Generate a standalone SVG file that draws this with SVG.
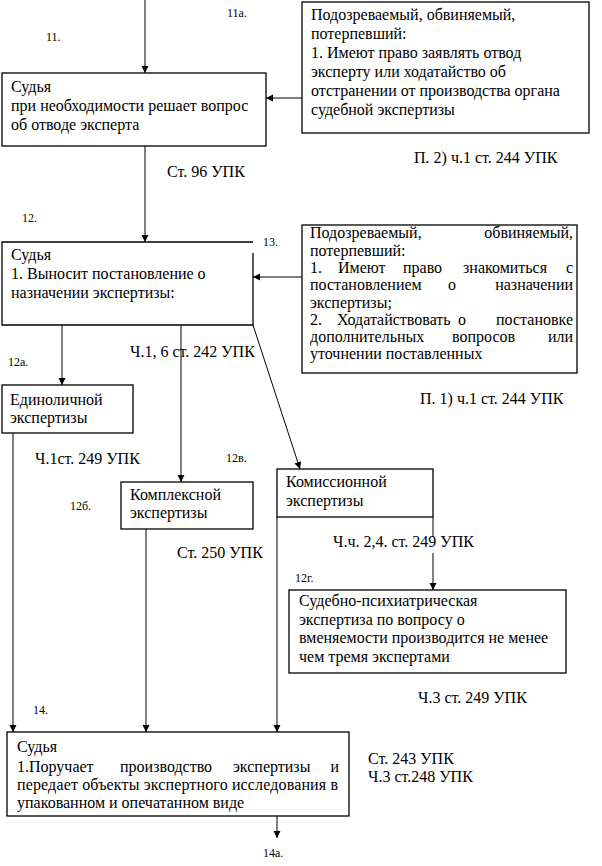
<svg xmlns="http://www.w3.org/2000/svg" width="602" height="866" viewBox="0 0 602 866" font-family="'Liberation Serif', 'Times New Roman', 'DejaVu Serif', serif">
<style>
text{font-family:'Liberation Serif','Times New Roman','DejaVu Serif',serif;fill:#000}
.t{font-size:16px}
.s{font-size:12px}
.e{text-anchor:end}
.box{fill:#fff;stroke:#000;stroke-width:1.3}
.ln{fill:none;stroke:#000;stroke-width:1}
</style>
<defs>
<marker id="ah" markerUnits="userSpaceOnUse" markerWidth="8" markerHeight="8" refX="7" refY="3.5" orient="auto">
<path d="M0,0 L7,3.5 L0,7 z" fill="#000"/>
</marker>
</defs>
<rect width="602" height="866" fill="#fff"/>
<g id="labels">
<text class="s" x="227" y="17">11а.</text>
<text class="s" x="46" y="41">11.</text>
<text class="t" x="167" y="177">Ст. 96 УПК</text>
<text class="t" x="414" y="163">П. 2) ч.1 ст. 244 УПК</text>
<text class="s" x="22" y="222">12.</text>
<text class="s" x="263" y="246">13.</text>
<text class="t" x="130" y="357">Ч.1, 6 ст. 242 УПК</text>
<text class="s" x="8" y="366">12а.</text>
<text class="t" x="420" y="404">П. 1) ч.1 ст. 244 УПК</text>
<text class="t" x="35" y="464">Ч.1ст. 249 УПК</text>
<text class="s" x="226" y="462">12в.</text>
<text class="s" x="70" y="510">12б.</text>
<text class="t" x="177" y="558">Ст. 250 УПК</text>
<text class="t" x="333" y="547">Ч.ч. 2,4. ст. 249 УПК</text>
<text class="s" x="295" y="582">12г.</text>
<text class="t" x="418" y="703">Ч.3 ст. 249 УПК</text>
<text class="s" x="33" y="714">14.</text>
<text class="t" x="368" y="764">Ст. 243 УПК</text>
<text class="t" x="368" y="782">Ч.3 ст.248 УПК</text>
<text class="s" x="263" y="857">14а.</text>
</g>
<g id="connectors">
<line class="ln" x1="145" y1="0" x2="145" y2="73" marker-end="url(#ah)"/>
<line class="ln" x1="302" y1="98" x2="266" y2="98" marker-end="url(#ah)"/>
<line class="ln" x1="145" y1="146" x2="145" y2="242" marker-end="url(#ah)"/>
<line class="ln" x1="302" y1="277" x2="253" y2="277" marker-end="url(#ah)"/>
<line class="ln" x1="62" y1="325" x2="62" y2="385" marker-end="url(#ah)"/>
<line class="ln" x1="181" y1="325" x2="181" y2="482" marker-end="url(#ah)"/>
<line class="ln" x1="253" y1="325" x2="300" y2="469" marker-end="url(#ah)"/>
<line class="ln" x1="13" y1="433" x2="13" y2="732" marker-end="url(#ah)"/>
<line class="ln" x1="146" y1="529" x2="146" y2="732" marker-end="url(#ah)"/>
<line class="ln" x1="277" y1="517" x2="277" y2="732" marker-end="url(#ah)"/>
<line class="ln" x1="433" y1="517" x2="433" y2="537"/>
<line class="ln" x1="433" y1="553" x2="433" y2="590" marker-end="url(#ah)"/>
<line class="ln" x1="277" y1="816" x2="277" y2="838" marker-end="url(#ah)"/>
</g>
<g id="n11">
<rect class="box" x="2" y="73" width="264" height="73"/>
<text class="t" x="11" y="92">Судья</text>
<text class="t" x="11" y="111">при необходимости решает вопрос</text>
<text class="t" x="11" y="130">об отводе эксперта</text>
</g>
<g id="n11a">
<rect class="box" x="302" y="2" width="287" height="131"/>
<text class="t" x="311" y="20">Подозреваемый, обвиняемый,</text>
<text class="t" x="311" y="39">потерпевший:</text>
<text class="t" x="311" y="58">1. Имеют право заявлять отвод</text>
<text class="t" x="311" y="77">эксперту или ходатайство об</text>
<text class="t" x="311" y="96">отстранении от производства органа</text>
<text class="t" x="311" y="115">судебной экспертизы</text>
</g>
<g id="n12">
<path class="box" d="M253,253 V325 H2 V242 H253" fill="none"/>
<text class="t" x="11" y="260">Судья</text>
<text class="t" x="11" y="279">1. Выносит постановление о</text>
<text class="t" x="11" y="298">назначении экспертизы:</text>
</g>
<g id="n13">
<rect class="box" x="302" y="225" width="275" height="148"/>
<text class="t" x="310" y="238">Подозреваемый,</text>
<text class="t e" x="573" y="238">обвиняемый,</text>
<text class="t" x="310" y="255.5">потерпевший:</text>
<text class="t" y="273"><tspan x="310">1.</tspan><tspan x="338">Имеют</tspan><tspan x="403">право</tspan><tspan x="463">знакомиться</tspan></text>
<text class="t e" x="573" y="273">с</text>
<text class="t" y="290"><tspan x="310">постановлением</tspan><tspan x="448">о</tspan></text>
<text class="t e" x="573" y="290">назначении</text>
<text class="t" x="310" y="307.5">экспертизы;</text>
<text class="t" y="325"><tspan x="310">2.</tspan><tspan x="337">Ходатайствовать</tspan><tspan x="458">о</tspan></text>
<text class="t e" x="573" y="325">постановке</text>
<text class="t" y="342"><tspan x="310">дополнительных</tspan><tspan x="452">вопросов</tspan></text>
<text class="t e" x="573" y="342">или</text>
<text class="t" x="310" y="359">уточнении поставленных</text>
</g>
<g id="n12a">
<rect class="box" x="2" y="385" width="131" height="48"/>
<text class="t" x="10" y="405">Единоличной</text>
<text class="t" x="10" y="423">экспертизы</text>
</g>
<g id="n12b">
<rect class="box" x="121" y="482" width="132" height="47"/>
<text class="t" x="130" y="500">Комплексной</text>
<text class="t" x="130" y="518">экспертизы</text>
</g>
<g id="n12v">
<rect class="box" x="277" y="469" width="156" height="48"/>
<text class="t" x="286" y="487">Комиссионной</text>
<text class="t" x="286" y="506">экспертизы</text>
</g>
<g id="n12g">
<rect class="box" x="289" y="590" width="277" height="83"/>
<text class="t" x="299" y="606">Судебно-психиатрическая</text>
<text class="t" x="299" y="624.5">экспертиза по вопросу о</text>
<text class="t" x="299" y="643">вменяемости производится не менее</text>
<text class="t" x="299" y="661.5">чем тремя экспертами</text>
</g>
<g id="n14">
<rect class="box" x="7" y="732" width="342" height="84"/>
<text class="t" x="17" y="752">Судья</text>
<text class="t" y="772"><tspan x="17">1.Поручает</tspan><tspan x="120">производство</tspan><tspan x="233">экспертизы</tspan></text>
<text class="t e" x="339" y="772">и</text>
<text class="t" x="17" y="790" textLength="321" lengthAdjust="spacing">передает объекты экспертного исследования в</text>
<text class="t" x="17" y="808">упакованном и опечатанном виде</text>
</g>
</svg>
